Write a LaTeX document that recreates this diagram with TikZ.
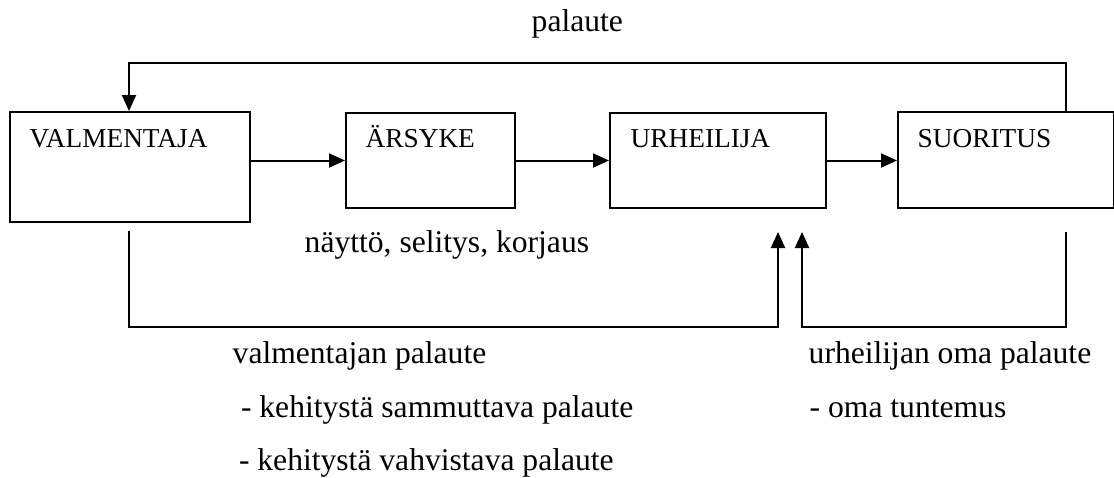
\documentclass[tikz,border=0pt]{standalone}
\usepackage{fontspec}
\setmainfont{Liberation Serif}
\usetikzlibrary{arrows.meta}
\begin{document}
\begin{tikzpicture}[x=1pt,y=-1pt,
  box/.style={draw, line width=2pt, inner sep=0pt, anchor=north west},
  conn/.style={line width=2pt},
  arr/.style={conn, -{Triangle[length=16pt,width=14pt]}},
  boxlabel/.style={anchor=base west, inner sep=0pt, font=\fontsize{27.3}{31}\selectfont},
  txt/.style={anchor=base west, inner sep=0pt, font=\fontsize{31.6}{36}\selectfont}]
\useasboundingbox (0,0) rectangle (1114,477);

% process boxes
\node[box, minimum width=240pt, minimum height=110pt] (V) at (9,111) {};
\node[box, minimum width=169pt, minimum height=95pt] (A) at (345,112) {};
\node[box, minimum width=216pt, minimum height=95pt] (U) at (609,112) {};
\node[box, minimum width=216pt, minimum height=96pt] (S) at (897,111) {};

% box titles
\node[boxlabel] (Vt) at ([shift={(20.5,36.5)}]V.north west) {VALMENTAJA};
\node[boxlabel] (At) at ([shift={(20.5,35.5)}]A.north west) {ÄRSYKE};
\node[boxlabel] (Ut) at ([shift={(21.5,35.5)}]U.north west) {URHEILIJA};
\node[boxlabel] (St) at ([shift={(20.5,36.5)}]S.north west) {SUORITUS};

% main chain
\draw[arr] (V.east |- A.west) -- (A.west);
\draw[arr] (A.east) -- (U.west);
\draw[arr] (U.east) -- (S.west |- U.east);

% feedback loop over the top
\coordinate (fbR) at (1066,63);
\coordinate (fbL) at (129,63);
\draw[arr] (S.north -| fbR) -- (fbR) -- (fbL) -- (fbL |- V.north);

% coach feedback below
\coordinate (cS) at (129,231);
\coordinate (cC) at (129,327);
\coordinate (cT) at (778,232);
\draw[arr] (cS) -- (cC) -| (cT);

% athlete's own feedback below
\coordinate (aS) at (1066,232);
\coordinate (aC) at (1066,327);
\coordinate (aT) at (802,232);
\draw[arr] (aS) -- (aC) -| (aT);

% texts
\node[txt] (pal) at (531.5,31.5) {palaute};
\node[txt] (nsk) at (304.5,252) {näyttö, selitys, korjaus};
\node[txt] (vp) at (232.5,363) {valmentajan palaute};
\node[txt] (ks) at (240.8,417) {- kehitystä sammuttava palaute};
\node[txt] (kv) at (238.8,470) {- kehitystä vahvistava palaute};
\node[txt] (up) at (808.5,363) {urheilijan oma palaute};
\node[txt] (ot) at (809.5,417) {- oma tuntemus};
\end{tikzpicture}
\end{document}
